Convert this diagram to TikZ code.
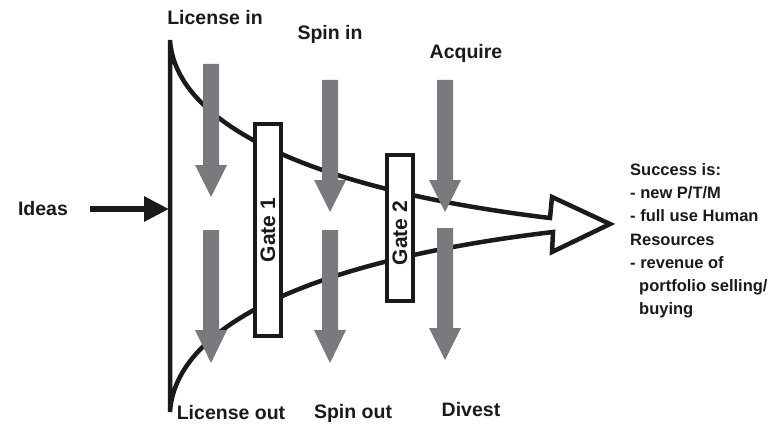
\documentclass[tikz,border=0pt]{standalone}
\usepackage{fontspec}
\setmainfont{Liberation Sans}
\usetikzlibrary{arrows.meta}
\definecolor{ink}{HTML}{1A1A1A}
\definecolor{arrowgray}{HTML}{7A7A7E}
\newcommand\grayarrow[4]{%
  \fill[arrowgray] (#1-8,#2) -- (#1+8,#2) -- (#1+8,#3) -- (#1+16,#3) -- (#1,#4) -- (#1-16,#3) -- (#1-8,#3) -- cycle;}
\begin{document}
\begin{tikzpicture}[x=1pt,y=-1pt,
  lbl/.style={font=\bfseries\fontsize{19.5}{23}\selectfont, text=ink, inner sep=0pt},
  gatebox/.style={draw=ink, line width=4.5pt, fill=white, inner sep=0pt},
  gatetext/.style={font=\bfseries\fontsize{21}{24}\selectfont, text=ink, rotate=90, inner sep=0pt},
  funnel/.style={draw=ink, line width=4.5pt, line join=miter, miter limit=10},
  succ/.style={font=\bfseries\fontsize{16.5}{23.3}\selectfont, text=ink, align=left, inner sep=0pt}]
\useasboundingbox (0,0) rectangle (770,425);
% funnel
\draw[funnel] (170,40) .. controls (175,120) and (300,188) .. (550,218)
  -- (552,197) -- (610,224) -- (552,252) -- (553,232)
  .. controls (300,262) and (175,330) .. (170,412) -- cycle;
% gates
\node[gatebox, minimum width=26pt, minimum height=212pt] (g1) at (268,230) {};
\node[gatetext] (g1t) at (268,230) {Gate 1};
\node[gatebox, minimum width=26pt, minimum height=146pt] (g2) at (400,228) {};
\node[gatetext] (g2t) at (400,233) {Gate 2};
% gray arrows
\grayarrow{211}{64}{165}{197}
\grayarrow{211}{230}{330}{363}
\grayarrow{330}{80}{180}{212}
\grayarrow{330}{230}{330}{363}
\grayarrow{445}{80}{180}{212}
\grayarrow{445}{228}{328}{360}
% labels
\node[lbl] (lin) at (215,18) {License in};
\node[lbl] (sin) at (330,34) {Spin in};
\node[lbl] (acq) at (466,53) {Acquire};
\node[lbl] (lout) at (231,413) {License out};
\node[lbl] (sout) at (353,413) {Spin out};
\node[lbl] (div) at (471,410) {Divest};
\node[lbl] (ideas) at (43,209) {Ideas};
\coordinate (funL) at (169,209);
\draw[draw=ink, line width=6pt, -{Triangle[length=25pt,width=24pt]}] ([xshift=22pt]ideas.east) -- (funL);
% success
\node[succ, anchor=north west] (succ) at (630,163) {Success is:\\- new P/T/M\\- full use Human\\Resources\\- revenue of\\\hspace*{9pt}portfolio selling/\\\hspace*{9pt}buying};
\end{tikzpicture}
\end{document}
